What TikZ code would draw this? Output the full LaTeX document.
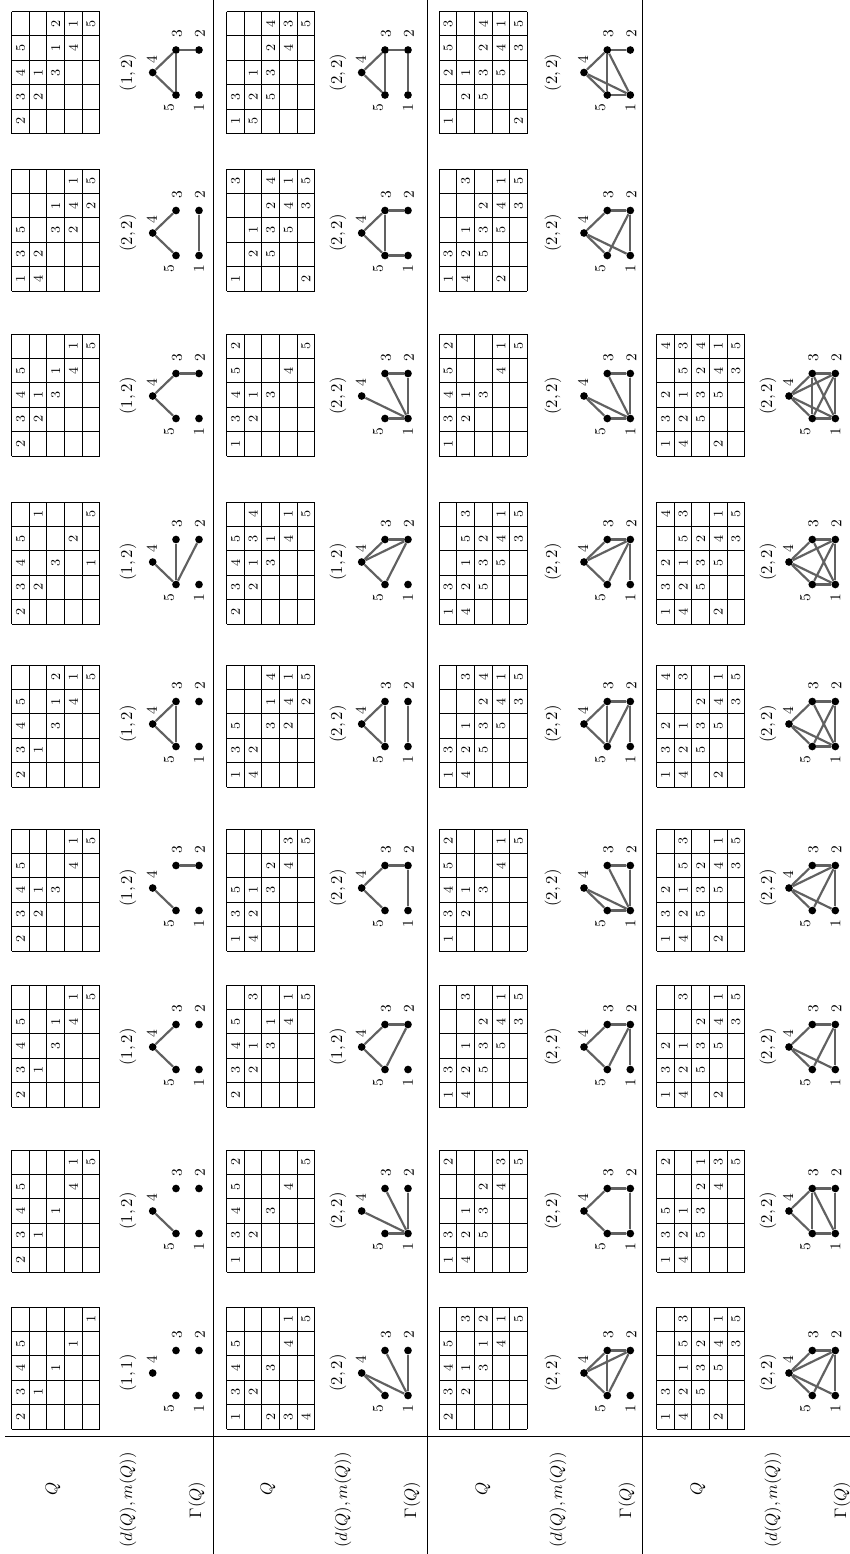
\documentclass[tikz,border=0pt]{standalone}
\usetikzlibrary{calc}
\tikzset{
  qgrid/.style={line width=0.5pt},
  qnum/.style={font=\footnotesize, rotate=90, inner sep=0pt},
  gvert/.style={circle, fill=black, inner sep=0pt, minimum size=4.6pt},
  gedge/.style={draw=black!62, line width=1.3pt},
  gnum/.style={font=\small, rotate=90, inner sep=0pt},
  dmlabel/.style={rotate=90, inner sep=0pt},
  rowhead/.style={rotate=90, inner sep=0pt},
  sepline/.style={line width=0.5pt}
}

% one row of a table: #1 left, #2 centre, #3 row number, #4 entries
\newcommand{\qrow}[4]{%
  \foreach \v [count=\c] in {#4}
    \node[qnum] (q-#3-\c) at (#1+#3*17.6-8.8, #2+61-\c*24.4+12.2) {\v};
}
% table Q: #1 left edge, #2 centre, #3..#7 rows from the top
\newcommand{\qtab}[7]{%
  \foreach \i in {0,...,5}
    \draw[qgrid] (#1+\i*17.6,#2-61) -- (#1+\i*17.6,#2+61);
  \foreach \j in {0,...,5}
    \draw[qgrid] (#1,#2-61+\j*24.4) -- (#1+88,#2-61+\j*24.4);
  \qrow{#1}{#2}{1}{#3}\qrow{#1}{#2}{2}{#4}\qrow{#1}{#2}{3}{#5}%
  \qrow{#1}{#2}{4}{#6}\qrow{#1}{#2}{5}{#7}%
}
% graph Gamma(Q): #1 x of vertex 4, #2 centre, #3 x of label, #4 (d,m), #5 edges
\newcommand{\qgraph}[5]{%
  \node[dmlabel] (dm) at (#3,#2) {$(#4)$};
  \node[gvert] (v4) at (#1,#2) {};
  \node[gvert] (v5) at (#1+23.3,#2+22.5) {};
  \node[gvert] (v3) at (#1+23.3,#2-22.5) {};
  \node[gvert] (v1) at (#1+46.3,#2+22.5) {};
  \node[gvert] (v2) at (#1+46.3,#2-22.5) {};
  \node[gnum] (n4) at (#1-1,#2-13) {4};
  \node[gnum] (n3) at (#1+24.3,#2-38.5) {3};
  \node[gnum] (n2) at (#1+47.3,#2-38.5) {2};
  \node[gnum] (n5) at (#1+16.3,#2+35.5) {5};
  \node[gnum] (n1) at (#1+46.3,#2+35.5) {1};
  \if\relax\detokenize{#5}\relax\else
    \foreach \a/\b in {#5} \draw[gedge] (v\a) -- (v\b);
  \fi
}

\begin{document}
\begin{tikzpicture}[x=0.6pt, y=-0.6pt]
  \useasboundingbox (0,0) rectangle (850,1554);

  % rules
  \foreach \x in {213,427,642}
    \draw[sepline] (\x,0) -- (\x,1554);
  \draw[sepline] (5,1436) -- (850,1436);

  % row heads
  \foreach \o [count=\k] in {0,215,430,645} {
    \node[rowhead] (hq\k) at (\o+53,1489) {$Q$};
    \node[rowhead] (hdm\k) at (\o+128,1500) {$(d(Q),m(Q))$};
    \node[rowhead] (hg\k) at (\o+197,1500) {$\Gamma(Q)$};
  }

  % band 1
  \qtab{11.7}{1368}{2,3,4,5,{}}{{},1,{},{},{}}{{},{},1,{},{}}{{},{},{},1,{}}{{},{},{},{},1}
  \qgraph{152.7}{1373}{128}{1,1}{}
  \qtab{11.7}{1211}{2,3,4,5,{}}{{},1,{},{},{}}{{},{},1,{},{}}{{},{},{},4,1}{{},{},{},{},5}
  \qgraph{152.7}{1211}{128}{1,2}{5/4}
  \qtab{11.7}{1046}{2,3,4,5,{}}{{},1,{},{},{}}{{},{},3,1,{}}{{},{},{},4,1}{{},{},{},{},5}
  \qgraph{152.7}{1047}{128}{1,2}{4/5,4/3}
  \qtab{11.7}{890}{2,3,4,5,{}}{{},2,1,{},{}}{{},{},3,{},{}}{{},{},{},4,1}{{},{},{},{},5}
  \qgraph{152.7}{888}{128}{1,2}{5/4,3/2}
  \qtab{11.7}{726}{2,3,4,5,{}}{{},1,{},{},{}}{{},{},3,1,2}{{},{},{},4,1}{{},{},{},{},5}
  \qgraph{152.7}{724}{128}{1,2}{4/5,4/3,5/3}
  \qtab{11.7}{563}{2,3,4,5,{}}{{},2,{},{},1}{{},{},3,{},{}}{{},{},{},2,{}}{{},{},1,{},5}
  \qgraph{152.7}{562}{128}{1,2}{5/4,5/3,5/2}
  \qtab{11.7}{395}{2,3,4,5,{}}{{},2,1,{},{}}{{},{},3,1,{}}{{},{},{},4,1}{{},{},{},{},5}
  \qgraph{152.7}{396}{128}{1,2}{4/5,4/3,3/2}
  \qtab{11.7}{230}{1,3,5,{},{}}{4,2,{},{},{}}{{},{},3,1,{}}{{},{},2,4,1}{{},{},{},2,5}
  \qgraph{152.7}{233}{128}{2,2}{4/5,4/3,1/2}
  \qtab{11.7}{72.5}{2,3,4,5,{}}{{},2,1,{},{}}{{},{},3,1,2}{{},{},{},4,1}{{},{},{},{},5}
  \qgraph{152.7}{72.5}{128}{1,2}{4/5,4/3,5/3,3/2}

  % band 2
  \qtab{226.7}{1368}{1,3,4,5,{}}{{},2,{},{},{}}{2,{},3,{},{}}{3,{},{},4,1}{4,{},{},{},5}
  \qgraph{361.7}{1373}{338}{2,2}{4/5,4/1,1/3,1/2}
  \qtab{226.7}{1211}{1,3,4,5,2}{{},2,{},{},{}}{{},{},3,{},{}}{{},{},{},4,{}}{{},{},{},{},5}
  \qgraph{361.7}{1211}{338}{2,2}{1/5,1/4,1/3,1/2}
  \qtab{226.7}{1046}{2,3,4,5,{}}{{},2,1,{},3}{{},{},3,1,{}}{{},{},{},4,1}{{},{},{},{},5}
  \qgraph{361.7}{1047}{338}{1,2}{4/5,4/3,5/2,3/2}
  \qtab{226.7}{890}{1,3,5,{},{}}{4,2,1,{},{}}{{},{},3,2,{}}{{},{},{},4,3}{{},{},{},{},5}
  \qgraph{361.7}{888}{338}{2,2}{4/5,4/3,3/2,1/2}
  \qtab{226.7}{726}{1,3,5,{},{}}{4,2,{},{},{}}{{},{},3,1,4}{{},{},2,4,1}{{},{},{},2,5}
  \qgraph{361.7}{724}{338}{2,2}{4/5,4/3,5/3,1/2}
  \qtab{226.7}{563}{2,3,4,5,{}}{{},2,1,3,4}{{},{},3,1,{}}{{},{},{},4,1}{{},{},{},{},5}
  \qgraph{361.7}{562}{338}{1,2}{4/5,4/3,4/2,3/2,5/2}
  \qtab{226.7}{395}{1,3,4,5,2}{{},2,1,{},{}}{{},{},3,{},{}}{{},{},{},4,{}}{{},{},{},{},5}
  \qgraph{361.7}{396}{338}{2,2}{1/5,1/4,1/3,1/2,3/2}
  \qtab{226.7}{230}{1,{},{},{},3}{{},2,1,{},{}}{{},5,3,2,4}{{},{},5,4,1}{2,{},{},3,5}
  \qgraph{361.7}{233}{338}{2,2}{4/5,4/3,5/3,5/1,3/2}
  \qtab{226.7}{72.5}{1,3,{},{},{}}{5,2,1,{},{}}{{},5,3,2,4}{{},{},{},4,3}{{},{},{},{},5}
  \qgraph{361.7}{72.5}{338}{2,2}{4/5,4/3,5/3,3/2,1/2}

  % band 3
  \qtab{439.3}{1368}{2,3,4,5,{}}{{},2,1,{},3}{{},{},3,1,2}{{},{},{},4,1}{{},{},{},{},5}
  \qgraph{584}{1373}{553}{2,2}{4/5,4/3,4/2,5/3,3/2,5/2}
  \qtab{439.3}{1211}{1,3,{},{},2}{4,2,1,{},{}}{{},5,3,2,{}}{{},{},{},4,3}{{},{},{},{},5}
  \qgraph{584}{1211}{553}{2,2}{4/5,4/3,5/1,3/2,1/2}
  \qtab{439.3}{1046}{1,3,{},{},{}}{4,2,1,{},3}{{},5,3,2,{}}{{},{},5,4,1}{{},{},{},3,5}
  \qgraph{584}{1047}{553}{2,2}{4/5,4/3,3/2,5/2,1/2}
  \qtab{439.3}{890}{1,3,4,5,2}{{},2,1,{},{}}{{},{},3,{},{}}{{},{},{},4,1}{{},{},{},{},5}
  \qgraph{584}{888}{553}{2,2}{4/5,4/1,5/1,1/3,3/2,1/2}
  \qtab{439.3}{726}{1,3,{},{},{}}{4,2,1,{},3}{{},5,3,2,4}{{},{},5,4,1}{{},{},{},3,5}
  \qgraph{584}{724}{553}{2,2}{4/5,4/3,5/3,5/2,3/2,1/2}
  \qtab{439.3}{563}{1,3,{},{},{}}{4,2,1,5,3}{{},5,3,2,{}}{{},{},5,4,1}{{},{},{},3,5}
  \qgraph{584}{562}{553}{2,2}{4/5,4/3,4/2,3/2,5/2,1/2}
  \qtab{439.3}{395}{1,3,4,5,2}{{},2,1,{},{}}{{},{},3,{},{}}{{},{},{},4,1}{{},{},{},{},5}
  \qgraph{584}{396}{553}{2,2}{4/5,4/1,5/1,1/3,3/2,1/2}
  \qtab{439.3}{230}{1,3,{},{},{}}{4,2,1,{},3}{{},5,3,2,{}}{2,{},5,4,1}{{},{},{},3,5}
  \qgraph{584}{233}{553}{2,2}{4/5,4/3,4/1,5/2,3/2,1/2}
  \qtab{439.3}{72.5}{1,{},2,5,3}{{},2,1,{},{}}{{},5,3,2,4}{{},{},5,4,1}{2,{},{},3,5}
  \qgraph{584}{72.5}{553}{2,2}{4/5,4/3,4/1,5/1,3/1,3/2,5/3}

  % band 4
  \qtab{656.7}{1368}{1,3,{},{},{}}{4,2,1,5,3}{{},5,3,2,{}}{2,{},5,4,1}{{},{},{},3,5}
  \qgraph{789}{1373}{768}{2,2}{4/5,4/3,4/2,4/1,3/2,1/2,5/2}
  \qtab{656.7}{1211}{1,3,5,{},2}{4,2,1,{},{}}{{},5,3,2,1}{{},{},{},4,3}{{},{},{},{},5}
  \qgraph{789}{1211}{768}{2,2}{4/5,4/3,5/1,3/1,3/2,1/2,5/3}
  \qtab{656.7}{1046}{1,3,2,{},{}}{4,2,1,{},3}{{},5,3,2,{}}{2,{},5,4,1}{{},{},{},3,5}
  \qgraph{789}{1047}{768}{2,2}{4/5,4/3,4/1,5/2,3/2,1/2}
  \qtab{656.7}{890}{1,3,2,{},{}}{4,2,1,5,3}{{},5,3,2,{}}{2,{},5,4,1}{{},{},{},3,5}
  \qgraph{789}{888}{768}{2,2}{4/5,4/3,4/1,4/2,5/2,3/2,1/2}
  \qtab{656.7}{726}{1,3,2,{},4}{4,2,1,{},3}{{},5,3,2,{}}{2,{},5,4,1}{{},{},{},3,5}
  \qgraph{789}{724}{768}{2,2}{4/5,4/3,4/1,5/2,3/1,3/2,1/2,5/1}
  \qtab{656.7}{563}{1,3,2,{},4}{4,2,1,5,3}{{},5,3,2,{}}{2,{},5,4,1}{{},{},{},3,5}
  \qgraph{789}{562}{768}{2,2}{4/5,4/3,4/1,4/2,5/2,3/1,3/2,1/2,5/1}
  \qtab{656.7}{395}{1,3,2,{},4}{4,2,1,5,3}{{},5,3,2,4}{2,{},5,4,1}{{},{},{},3,5}
  \qgraph{789}{396}{768}{2,2}{4/5,4/3,4/1,4/2,5/2,5/3,3/1,3/2,1/2,5/1}
\end{tikzpicture}
\end{document}
